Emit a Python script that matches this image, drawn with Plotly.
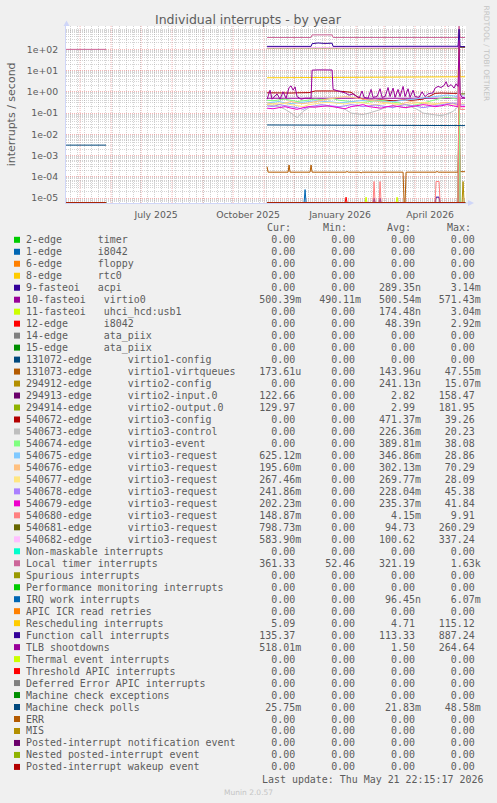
import plotly.graph_objects as go

# ------------------------------------------------------------------ layout constants
W, H = 497, 803
PLOT_L, PLOT_T, PLOT_W, PLOT_H = 66, 26, 400, 177
Y_RANGE = [-5.234, 3.10]
X_RANGE = ["2025-04-16 22:15:17", "2026-05-21 22:15:17"]

# ------------------------------------------------------------------ axis labels
Y_TICK_VALUES = [1e-5, 1e-4, 1e-3, 1e-2, 1e-1, 1, 10, 100]
Y_TICK_LABELS = ["1e-05", "1e-04", "1e-03", "1e-02", "1e-01", "1e+00", "1e+01", "1e+02"]
X_TICK_DATES = ["2025-07-16", "2025-10-16", "2026-01-16", "2026-04-16"]
X_TICK_LABELS = ["July 2025", "October 2025", "January 2026", "April 2026"]
MONTH_STARTS = ["2025-05-01", "2025-06-01", "2025-07-01", "2025-08-01", "2025-09-01",
                "2025-10-01", "2025-11-01", "2025-12-01", "2026-01-01", "2026-02-01",
                "2026-03-01", "2026-04-01", "2026-05-01"]

# ------------------------------------------------------------------ legend table
LABELS = [
    "2-edge      timer", "1-edge      i8042", "6-edge      floppy", "8-edge      rtc0",
    "9-fasteoi   acpi", "10-fasteoi   virtio0", "11-fasteoi   uhci_hcd:usb1",
    "12-edge      i8042", "14-edge      ata_piix", "15-edge      ata_piix",
    "131072-edge      virtio1-config", "131073-edge      virtio1-virtqueues",
    "294912-edge      virtio2-config", "294913-edge      virtio2-input.0",
    "294914-edge      virtio2-output.0", "540672-edge      virtio3-config",
    "540673-edge      virtio3-control", "540674-edge      virtio3-event",
    "540675-edge      virtio3-request", "540676-edge      virtio3-request",
    "540677-edge      virtio3-request", "540678-edge      virtio3-request",
    "540679-edge      virtio3-request", "540680-edge      virtio3-request",
    "540681-edge      virtio3-request", "540682-edge      virtio3-request",
    "Non-maskable interrupts", "Local timer interrupts", "Spurious interrupts",
    "Performance monitoring interrupts", "IRQ work interrupts", "APIC ICR read retries",
    "Rescheduling interrupts", "Function call interrupts", "TLB shootdowns",
    "Thermal event interrupts", "Threshold APIC interrupts", "Deferred Error APIC interrupts",
    "Machine check exceptions", "Machine check polls", "ERR", "MIS",
    "Posted-interrupt notification event", "Nested posted-interrupt event",
    "Posted-interrupt wakeup event",
]
COLORS = [
    "#00CC00", "#0066B3", "#FF8000", "#FFCC00", "#330099", "#990099", "#CCFF00", "#FF0000",
    "#808080", "#008F00", "#00487D", "#B35A00", "#B38F00", "#6B006B", "#8FB300", "#B30000",
    "#BEBEBE", "#80FF80", "#80C9FF", "#FFC080", "#FFE680", "#AA80FF", "#EE00CC", "#FF8080",
    "#666600", "#FFBFFF", "#00FFCC", "#CC6699", "#999900",
    "#00CC00", "#0066B3", "#FF8000", "#FFCC00", "#330099", "#990099", "#CCFF00", "#FF0000",
    "#808080", "#008F00", "#00487D", "#B35A00", "#B38F00", "#6B006B", "#8FB300", "#B30000",
]
CUR = ["0.00", "0.00", "0.00", "0.00", "0.00", "500.39m", "0.00", "0.00", "0.00", "0.00",
       "0.00", "173.61u", "0.00", "122.66", "129.97", "0.00", "0.00", "0.00", "625.12m",
       "195.60m", "267.46m", "241.86m", "202.23m", "148.87m", "798.73m", "583.90m",
       "0.00", "361.33", "0.00", "0.00", "0.00", "0.00", "5.09", "135.37", "518.01m",
       "0.00", "0.00", "0.00", "0.00", "25.75m", "0.00", "0.00", "0.00", "0.00", "0.00"]
MINS = ["0.00", "0.00", "0.00", "0.00", "0.00", "490.11m", "0.00", "0.00", "0.00", "0.00",
        "0.00", "0.00", "0.00", "0.00", "0.00", "0.00", "0.00", "0.00", "0.00",
        "0.00", "0.00", "0.00", "0.00", "0.00", "0.00", "0.00",
        "0.00", "52.46", "0.00", "0.00", "0.00", "0.00", "0.00", "0.00", "0.00",
        "0.00", "0.00", "0.00", "0.00", "0.00", "0.00", "0.00", "0.00", "0.00", "0.00"]
AVGS = ["0.00", "0.00", "0.00", "0.00", "289.35n", "500.54m", "174.48n", "48.39n", "0.00", "0.00",
        "0.00", "143.96u", "241.13n", "2.82", "2.99", "471.37m", "226.36m", "389.81m", "346.86m",
        "302.13m", "269.77m", "228.04m", "235.37m", "4.15m", "94.73", "100.62",
        "0.00", "321.19", "0.00", "0.00", "96.45n", "0.00", "4.71", "113.33", "1.50",
        "0.00", "0.00", "0.00", "0.00", "21.83m", "0.00", "0.00", "0.00", "0.00", "0.00"]
MAXS = ["0.00", "0.00", "0.00", "0.00", "3.14m", "571.43m", "3.04m", "2.92m", "0.00", "0.00",
        "0.00", "47.55m", "15.07m", "158.47", "181.95", "39.26", "20.23", "38.08", "28.86",
        "70.29", "28.09", "45.38", "41.84", "9.91", "260.29", "337.24",
        "0.00", "1.63k", "0.00", "0.00", "6.07m", "0.00", "115.12", "887.24", "264.64",
        "0.00", "0.00", "0.00", "0.00", "48.58m", "0.00", "0.00", "0.00", "0.00", "0.00"]

# ------------------------------------------------------------------ series data
ZERO_DATES = ["2025-04-17", "2025-05-27", "2025-08-01", "2025-11-04", "2026-05-21"]
ZERO_VALUES = [0, 0, None, 0, 0]

ACPI_DATES = ["2025-04-17", "2025-05-27", "2025-08-01", "2025-11-04",
              "2026-02-18", "2026-02-19", "2026-02-20", "2026-02-24", "2026-02-25", "2026-02-26",
              "2026-04-21", "2026-04-22", "2026-04-25", "2026-04-26", "2026-05-21"]
ACPI_VALUES = [0, 0, None, 0, 0, 1e-5, 0, 0, 1e-5, 0, 0, 1.1e-5, 1.1e-5, 0, 0]

VIRTIO0_DATES = ["2025-11-04", "2026-01-09", "2026-03-01", "2026-05-14", "2026-05-15",
                 "2026-05-16", "2026-05-21"]
VIRTIO0_VALUES = [0.5, 0.5, 0.5, 0.5, 0.5714, 0.5, 0.5004]

USB_DATES = ["2025-04-17", "2025-05-27", "2025-08-01", "2025-11-04", "2026-02-10", "2026-02-11",
             "2026-02-12", "2026-03-13", "2026-03-14", "2026-03-15", "2026-05-21"]
USB_VALUES = [0, 0, None, 0, 0, 1.1e-5, 0, 0, 1.1e-5, 0, 0]

I8042_DATES = ["2025-04-17", "2025-05-27", "2025-08-01", "2025-11-04", "2026-01-21",
               "2026-01-22", "2026-01-23", "2026-05-21"]
I8042_VALUES = [0, 0, None, 0, 0, 1.1e-5, 0, 0]

VQ1_DATES = ["2025-11-04", "2025-11-05", "2025-11-25", "2025-11-26", "2025-11-27", "2025-12-17",
             "2025-12-18", "2025-12-19", "2026-01-22", "2026-01-23", "2026-01-24", "2026-02-05",
             "2026-02-06", "2026-02-07", "2026-03-20", "2026-03-21", "2026-03-22", "2026-03-23",
             "2026-04-22", "2026-04-23", "2026-04-24", "2026-05-14", "2026-05-15", "2026-05-16",
             "2026-05-21"]
VQ1_VALUES = [3.0e-4, 1.65e-4, 1.65e-4, 3.6e-4, 1.65e-4, 1.65e-4, 3.6e-4, 1.65e-4, 1.65e-4,
              1.8e-4, 1.65e-4, 1.65e-4, 1.5e-4, 1.65e-4, 1.65e-4, 0, 0, 1.65e-4, 1.65e-4,
              1.8e-4, 1.65e-4, 1.65e-4, 0.04755, 1.75e-4, 1.7361e-4]

V2CFG_DATES = ["2025-11-04", "2026-05-18", "2026-05-19", "2026-05-20", "2026-05-21"]
V2CFG_VALUES = [0, 0, 6e-5, 0, 0]

V2IO_DATES = ["2025-11-04", "2026-05-14", "2026-05-15", "2026-05-16", "2026-05-21"]
V2IN_VALUES = [0, 0, 158.47, 125, 122.66]
V2OUT_VALUES = [0, 0, 181.95, 130, 129.97]

# base dates for the virtio3 queues (one point every six days, plus the last days)
BASE_DATES = ["2025-11-04", "2025-11-10", "2025-11-16", "2025-11-22", "2025-11-28",
              "2025-12-04", "2025-12-10", "2025-12-16", "2025-12-22", "2025-12-28",
              "2026-01-03", "2026-01-09", "2026-01-15", "2026-01-21", "2026-01-27",
              "2026-02-02", "2026-02-08", "2026-02-14", "2026-02-20", "2026-02-26",
              "2026-03-04", "2026-03-10", "2026-03-16", "2026-03-22", "2026-03-28",
              "2026-04-03", "2026-04-09", "2026-04-15", "2026-04-21", "2026-04-27",
              "2026-05-03", "2026-05-09", "2026-05-14", "2026-05-15", "2026-05-16", "2026-05-21"]
V3_CONFIG = [0.9, 0.88, 0.92, 0.9, 0.88, 0.9, 0.9, 0.92, 1.1, 1.12,
             1.1, 1.1, 1.08, 1.05, 0.95, 0.6, 0.45, 0.42, 0.4, 0.42,
             0.4, 0.38, 0.4, 0.42, 0.4, 0.42, 0.45, 0.6, 0.85, 0.88,
             0.9, 0.85, 0.85, 39.26, 0, 0]
V3_CONTROL = [0.25, 0.22, 0.2, 0.15, 0.1, 0.06, 0.12, 0.18, 0.2, 0.22,
              0.2, 0.2, 0.18, 0.15, 0.1, 0.09, 0.085, 0.1, 0.12, 0.15,
              0.2, 0.22, 0.2, 0.18, 0.2, 0.15, 0.1, 0.09, 0.08, 0.075,
              0.09, 0.12, 0.2, 20.23, 0, 0]
V3_EVENT = [0.4, 0.38, 0.42, 0.45, 0.4, 0.35, 0.38, 0.42, 0.45, 0.43,
            0.45, 0.48, 0.4, 0.38, 0.35, 0.3, 0.32, 0.35, 0.38, 0.4,
            0.36, 0.33, 0.3, 0.25, 0.22, 0.25, 0.3, 0.35, 0.45, 0.5,
            0.55, 0.5, 0.45, 38.08, 0, 0]
V3_REQ_675 = [0.3, 0.32, 0.35, 0.3, 0.28, 0.3, 0.32, 0.35, 0.38, 0.36,
              0.35, 0.33, 0.3, 0.32, 0.35, 0.38, 0.4, 0.42, 0.38, 0.35,
              0.33, 0.35, 0.38, 0.4, 0.42, 0.45, 0.5, 0.55, 0.6, 0.65,
              0.7, 0.65, 0.6, 28.86, 0.62, 0.625]
V3_REQ_676 = [0.3, 0.28, 0.25, 0.3, 0.35, 0.3, 0.28, 0.3, 0.35, 0.4,
              0.45, 0.5, 0.55, 0.6, 0.55, 0.5, 0.45, 0.4, 0.35, 0.32,
              0.3, 0.28, 0.25, 0.3, 0.35, 0.32, 0.3, 0.28, 0.25, 0.3,
              0.32, 0.28, 0.22, 70.29, 0.2, 0.196]
V3_REQ_677 = [0.25, 0.27, 0.3, 0.28, 0.25, 0.22, 0.2, 0.25, 0.28, 0.3,
              0.32, 0.3, 0.28, 0.27, 0.3, 0.32, 0.3, 0.28, 0.25, 0.27,
              0.3, 0.28, 0.27, 0.25, 0.28, 0.3, 0.32, 0.3, 0.28, 0.27,
              0.26, 0.27, 0.28, 28.09, 0.27, 0.267]
V3_REQ_678 = [0.22, 0.2, 0.25, 0.23, 0.2, 0.18, 0.15, 0.2, 0.22, 0.25,
              0.23, 0.22, 0.2, 0.22, 0.25, 0.23, 0.2, 0.22, 0.24, 0.22,
              0.2, 0.18, 0.22, 0.25, 0.23, 0.2, 0.18, 0.2, 0.22, 0.25,
              0.28, 0.3, 0.25, 45.38, 0.24, 0.242]
V3_REQ_679 = [0.17, 0.16, 0.18, 0.2, 0.17, 0.15, 0.18, 0.2, 0.19, 0.2,
              0.22, 0.2, 0.18, 0.16, 0.2, 0.22, 0.25, 0.2, 0.18, 0.17,
              0.2, 0.22, 0.2, 0.18, 0.2, 0.22, 0.25, 0.23, 0.2, 0.22,
              0.25, 0.22, 0.2, 41.84, 0.2, 0.202]

V3_680_DATES = ["2025-11-04", "2026-02-18", "2026-02-19", "2026-02-20", "2026-02-24",
                "2026-02-25", "2026-02-26", "2026-04-21", "2026-04-22", "2026-04-25",
                "2026-04-26", "2026-05-14", "2026-05-15", "2026-05-16", "2026-05-21"]
V3_680_VALUES = [0, 0, 6e-5, 0, 0, 6e-5, 0, 0, 6e-5, 6e-5, 0, 0, 9.91, 0.15, 0.14887]

V3_BIG_DATES = ["2025-11-04", "2026-05-14", "2026-05-15", "2026-05-16", "2026-05-21"]
V3_681_VALUES = [117, 117, 260.29, 0.8, 0.79873]
V3_682_VALUES = [123, 123, 337.24, 0.58, 0.5839]

LOCAL_TIMER_DATES = ["2025-04-17", "2025-05-27", "2025-08-01", "2025-11-04", "2025-12-18",
                     "2025-12-19", "2026-01-08", "2026-01-09", "2026-04-12", "2026-04-13",
                     "2026-04-14", "2026-05-14", "2026-05-15", "2026-05-16", "2026-05-21"]
LOCAL_TIMER_VALUES = [100, 100, None, 363, 363, 480, 480, 363, 363, 380, 363, 363, 1630,
                      361, 361.33]

IRQ_WORK_DATES = ["2025-04-17", "2025-05-27", "2025-08-01", "2025-11-04", "2025-12-11",
                  "2025-12-12", "2025-12-13", "2026-05-21"]
IRQ_WORK_VALUES = [0, 0, None, 0, 0, 2.5e-5, 0, 0]

RESCHED_DATES = ["2025-11-04", "2025-12-18", "2026-01-09", "2026-02-15", "2026-03-20",
                 "2026-04-20", "2026-05-10", "2026-05-14", "2026-05-15", "2026-05-16",
                 "2026-05-21"]
RESCHED_VALUES = [4.6, 4.7, 4.8, 4.7, 4.9, 5.0, 5.2, 5.1, 115.12, 5.1, 5.09]

FCALL_DATES = ["2025-11-04", "2025-12-18", "2025-12-19", "2025-12-25", "2026-01-01",
               "2026-01-08", "2026-01-09", "2026-02-15", "2026-03-20", "2026-05-10",
               "2026-05-14", "2026-05-15", "2026-05-16", "2026-05-21"]
FCALL_VALUES = [138, 138, 185, 200, 190, 195, 138, 136, 137, 138, 140, 887.24, 135, 135.37]

TLB_DATES = ["2025-11-04", "2025-11-07", "2025-11-09", "2025-11-10", "2025-11-14", "2025-11-17",
             "2025-11-20", "2025-11-23", "2025-11-26", "2025-11-28", "2025-11-30", "2025-12-02",
             "2025-12-04", "2025-12-08", "2025-12-12", "2025-12-18", "2025-12-19", "2025-12-25",
             "2026-01-01", "2026-01-08", "2026-01-09", "2026-01-13", "2026-01-17", "2026-01-21",
             "2026-01-25", "2026-01-29", "2026-02-01", "2026-02-04", "2026-02-07", "2026-02-09",
             "2026-02-13", "2026-02-16", "2026-02-18", "2026-02-22", "2026-02-25", "2026-02-27",
             "2026-03-02", "2026-03-05", "2026-03-07", "2026-03-10", "2026-03-12", "2026-03-15",
             "2026-03-17", "2026-03-20", "2026-03-22", "2026-03-25", "2026-03-27", "2026-03-30",
             "2026-04-01", "2026-04-05", "2026-04-08", "2026-04-11", "2026-04-14", "2026-04-19",
             "2026-04-21", "2026-04-24", "2026-04-27", "2026-04-30", "2026-05-02", "2026-05-04",
             "2026-05-07", "2026-05-10", "2026-05-12", "2026-05-14", "2026-05-15", "2026-05-16",
             "2026-05-18", "2026-05-21"]
TLB_VALUES = [0.45, 1.2, 0.45, 0.5, 0.8, 0.45, 1.0, 0.5, 1.6, 1.9, 1.2, 1.7,
              0.6, 0.45, 0.5, 0.5, 10.5, 10.8, 10.6, 10.7, 1.3, 1.1, 1.0, 0.9,
              0.7, 0.8, 0.6, 0.5, 1.1, 0.55, 0.5, 1.3, 0.55, 0.6, 1.4, 0.55,
              0.6, 1.6, 0.6, 1.5, 0.55, 1.3, 0.6, 1.8, 0.6, 1.4, 0.55, 1.2,
              0.6, 0.55, 1.0, 0.6, 0.8, 0.9, 1.5, 1.8, 1.6, 2.0, 3.0, 1.7,
              2.2, 1.5, 2.4, 1.8, 264.64, 0.8, 0.55, 0.518]

MC_POLL_DATES = ["2025-04-17", "2025-05-27", "2025-08-01", "2025-11-04", "2026-05-21"]
MC_POLL_VALUES = [0.0031, 0.0031, None, 0.0275, 0.02575]

# which data each legend row draws (row index -> dates, values)
SERIES_DATA = {
    4: (ACPI_DATES, ACPI_VALUES), 5: (VIRTIO0_DATES, VIRTIO0_VALUES),
    6: (USB_DATES, USB_VALUES), 7: (I8042_DATES, I8042_VALUES),
    11: (VQ1_DATES, VQ1_VALUES), 12: (V2CFG_DATES, V2CFG_VALUES),
    13: (V2IO_DATES, V2IN_VALUES), 14: (V2IO_DATES, V2OUT_VALUES),
    15: (BASE_DATES, V3_CONFIG), 16: (BASE_DATES, V3_CONTROL), 17: (BASE_DATES, V3_EVENT),
    18: (BASE_DATES, V3_REQ_675), 19: (BASE_DATES, V3_REQ_676), 20: (BASE_DATES, V3_REQ_677),
    21: (BASE_DATES, V3_REQ_678), 22: (BASE_DATES, V3_REQ_679),
    23: (V3_680_DATES, V3_680_VALUES), 24: (V3_BIG_DATES, V3_681_VALUES),
    25: (V3_BIG_DATES, V3_682_VALUES), 27: (LOCAL_TIMER_DATES, LOCAL_TIMER_VALUES),
    30: (IRQ_WORK_DATES, IRQ_WORK_VALUES), 32: (RESCHED_DATES, RESCHED_VALUES),
    33: (FCALL_DATES, FCALL_VALUES), 34: (TLB_DATES, TLB_VALUES),
    39: (MC_POLL_DATES, MC_POLL_VALUES),
}

for d, v in SERIES_DATA.values():
    assert len(d) == len(v), (len(d), len(v))

# ------------------------------------------------------------------ helpers
FONT_COLOR = "#5c5c5c"
AXIS_COLOR = "#CFD6F8"
MAJOR_GRID = "rgba(235,120,120,0.55)"
MINOR_GRID = "rgba(160,160,160,0.45)"
FLOOR = 10 ** (Y_RANGE[0] + 0.012)   # rrdtool draws zero values on the bottom edge


def px(x):
    return (x - PLOT_L) / PLOT_W


def py(y):
    return (PLOT_T + PLOT_H - y) / PLOT_H


def shown(vals):
    return [None if v is None else (v if v > 0 else FLOOR) for v in vals]


def nb(s):
    return s.replace(" ", "\u00a0")


def field(v):
    return v if v[-1].isalpha() else v + " "


fig = go.Figure()

for i, color in enumerate(COLORS):
    dates, vals = SERIES_DATA.get(i, (ZERO_DATES, ZERO_VALUES))
    fig.add_trace(go.Scatter(
        x=dates, y=shown(vals), mode="lines", line=dict(color=color, width=1),
        hoverinfo="skip", showlegend=False, connectgaps=False))

Y_MINOR = [k * 10 ** e for e in range(-6, 4) for k in range(2, 10)]

fig.update_layout(
    width=W, height=H,
    margin=dict(l=PLOT_L, r=W - PLOT_L - PLOT_W, t=PLOT_T, b=H - PLOT_T - PLOT_H),
    paper_bgcolor="#F0F0F0", plot_bgcolor="#FFFFFF",
    showlegend=False,
    font=dict(family="DejaVu Sans", color=FONT_COLOR),
    xaxis=dict(
        type="date", range=X_RANGE, tickmode="array", tickvals=X_TICK_DATES,
        ticktext=X_TICK_LABELS, showgrid=False, zeroline=False,
        showline=True, linecolor=AXIS_COLOR, linewidth=1,
        ticks="outside", ticklen=3, tickcolor="rgba(0,0,0,0)",
        tickfont=dict(family="DejaVu Sans", size=9.3, color=FONT_COLOR),
        minor=dict(dtick=7 * 86400000, tick0="2025-04-21", showgrid=True,
                   gridcolor=MINOR_GRID, griddash="1px,1px", gridwidth=1),
        fixedrange=True,
    ),
    yaxis=dict(
        type="log", range=Y_RANGE, tickmode="array", tickvals=Y_TICK_VALUES,
        ticktext=Y_TICK_LABELS, showgrid=True, gridcolor=MAJOR_GRID,
        griddash="1px,1px", gridwidth=1, zeroline=False,
        showline=True, linecolor=AXIS_COLOR, linewidth=1,
        ticks="outside", ticklen=5, tickcolor="rgba(0,0,0,0)",
        tickfont=dict(family="DejaVu Sans", size=9.3, color=FONT_COLOR),
        minor=dict(tickmode="array", tickvals=Y_MINOR, showgrid=True,
                   gridcolor=MINOR_GRID, griddash="1px,1px", gridwidth=1),
        fixedrange=True,
    ),
)

shapes = []
for m in MONTH_STARTS:
    shapes.append(dict(type="line", xref="x", yref="paper", x0=m, x1=m, y0=0, y1=1,
                       line=dict(color=MAJOR_GRID, width=1, dash="1px,1px"), layer="below"))
# axis arrows
shapes.append(dict(type="path", xref="paper", yref="paper",
                   path=f"M {px(63.5)} {py(26)} L {px(66.5)} {py(20.5)} L {px(69.5)} {py(26)} Z",
                   fillcolor=AXIS_COLOR, line=dict(width=0)))
shapes.append(dict(type="line", xref="paper", yref="paper", x0=1, x1=px(470), y0=0, y1=0,
                   line=dict(color=AXIS_COLOR, width=1)))
shapes.append(dict(type="path", xref="paper", yref="paper",
                   path=f"M {px(468)} {py(200)} L {px(474)} {py(203)} L {px(468)} {py(206)} Z",
                   fillcolor=AXIS_COLOR, line=dict(width=0)))

annotations = []
annotations.append(dict(text="Individual interrupts - by year", x=px(248), y=py(19.3),
                        xref="paper", yref="paper", showarrow=False, xanchor="center",
                        yanchor="middle", font=dict(family="DejaVu Sans", size=12.5,
                                                    color=FONT_COLOR)))
annotations.append(dict(text="interrupts / second", x=px(11.7), y=py(114.6), xref="paper",
                        yref="paper", showarrow=False, textangle=-90, xanchor="center",
                        yanchor="middle", font=dict(family="DejaVu Sans", size=11,
                                                    color=FONT_COLOR)))
annotations.append(dict(text="RRDTOOL / TOBI OETIKER", x=px(486.5), y=py(53), xref="paper",
                        yref="paper", showarrow=False, textangle=90, xanchor="center",
                        yanchor="middle", font=dict(family="DejaVu Sans", size=7.45,
                                                    color="#c4c4c4")))

MONO = "DejaVu Sans Mono"
MONO_SIZE = 9.95
for text, xh in (("Cur:", 266.7), ("Min:", 322.7), ("Avg:", 386.7), ("Max:", 446.7)):
    annotations.append(dict(text=text, x=px(xh), y=py(227), xref="paper", yref="paper",
                            showarrow=False, xanchor="left", yanchor="middle",
                            borderpad=0, borderwidth=0,
                            font=dict(family=MONO, size=MONO_SIZE, color=FONT_COLOR)))

ROW0, ROW_STEP = 239.8, 11.98
for i, label in enumerate(LABELS):
    yrow = ROW0 + i * ROW_STEP
    row = label.ljust(36) + "".join(field(v).rjust(10) for v in (CUR[i], MINS[i], AVGS[i], MAXS[i]))
    annotations.append(dict(text=nb(row), x=px(26.3), y=py(yrow), xref="paper", yref="paper",
                            showarrow=False, xanchor="left", yanchor="middle",
                            borderpad=0, borderwidth=0,
                            font=dict(family=MONO, size=MONO_SIZE, color=FONT_COLOR)))
    shapes.append(dict(type="rect", xref="paper", yref="paper", x0=px(14), x1=px(20),
                       y0=py(yrow + 3), y1=py(yrow - 3), fillcolor=COLORS[i],
                       line=dict(width=0)))

annotations.append(dict(text=nb("Last update: Thu May 21 22:15:17 2026"), x=px(483),
                        y=py(779.5), xref="paper", yref="paper", showarrow=False,
                        xanchor="right", yanchor="middle", borderpad=0, borderwidth=0,
                        font=dict(family=MONO, size=MONO_SIZE, color=FONT_COLOR)))
annotations.append(dict(text="Munin 2.0.57", x=px(248), y=py(792), xref="paper",
                        yref="paper", showarrow=False, xanchor="center", yanchor="middle",
                        font=dict(family="DejaVu Sans", size=7.5, color="#c4c4c4")))

fig.update_layout(shapes=shapes, annotations=annotations)
fig.write_html(
    "out.html",
    config={"displayModeBar": False, "staticPlot": True},
    post_script="document.body.style.margin='0px';document.body.style.overflow='hidden';",
)
